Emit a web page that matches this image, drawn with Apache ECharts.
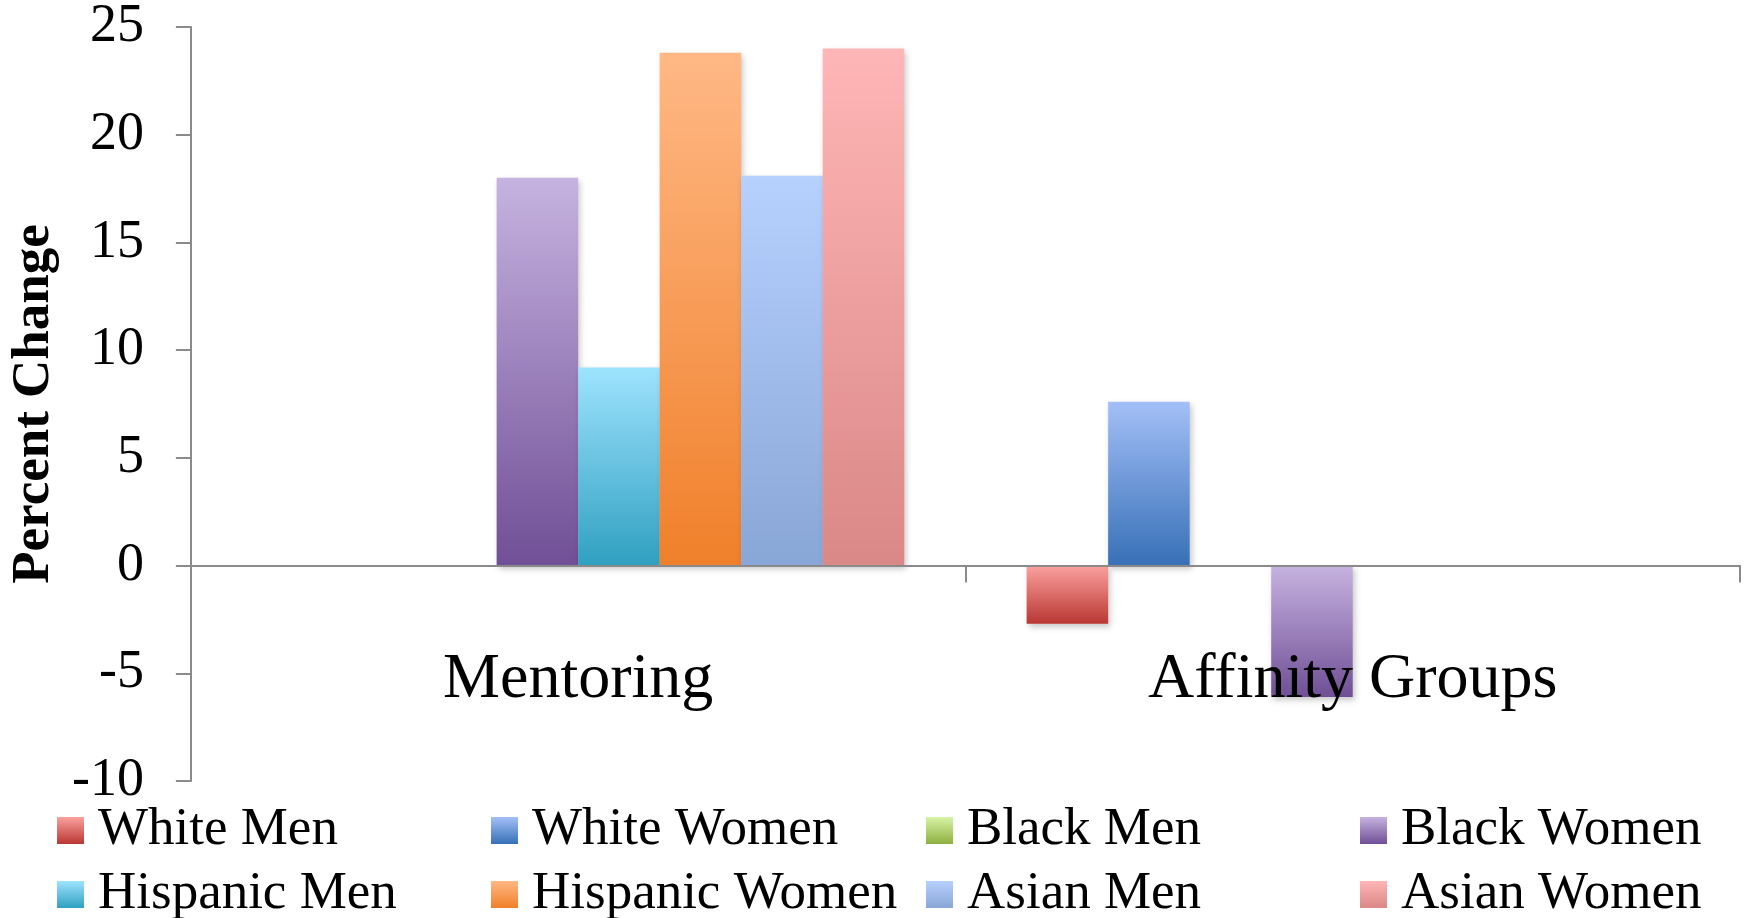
<!DOCTYPE html>
<html>
<head>
<meta charset="utf-8">
<script src="https://cdn.jsdelivr.net/npm/echarts@6/dist/echarts.min.js"></script>
<style>
  html, body { margin: 0; padding: 0; background: #ffffff; }
  #chart { width: 1753px; height: 918px; }
</style>
</head>
<body>
<div id="chart"></div>
<script>
// Programs compared
const categories = ['Mentoring', 'Affinity Groups'];

// Percent change per group (null = no bar)
const whiteMen       = [null, -2.7];
const whiteWomen     = [null, 7.6];
const blackMen       = [null, null];
const blackWomen     = [18.0, -6.1];
const hispanicMen    = [9.2, null];
const hispanicWomen  = [23.8, null];
const asianMen       = [18.1, null];
const asianWomen     = [24.0, null];

const seriesNames = ['White Men', 'White Women', 'Black Men', 'Black Women',
                     'Hispanic Men', 'Hispanic Women', 'Asian Men', 'Asian Women'];
const seriesValues = [whiteMen, whiteWomen, blackMen, blackWomen,
                      hispanicMen, hispanicWomen, asianMen, asianWomen];

// Top / bottom colours of each bar's vertical gradient
const gradientStops = [
  ['#fba19e', '#b93733'],
  ['#a3bff7', '#3770b7'],
  ['#d8f4a7', '#8db03f'],
  ['#c6b3e0', '#704f96'],
  ['#9ee3fe', '#30a0c1'],
  ['#ffb885', '#f0802a'],
  ['#b7d1fe', '#88a6d6'],
  ['#ffb6b6', '#da8787']
];

const FONT = "'Liberation Serif', 'Times New Roman', serif";

const chart = echarts.init(document.getElementById('chart'));

const series = seriesNames.map((name, i) => ({
  name: name,
  type: 'bar',
  data: seriesValues[i],
  barGap: '0%',
  barCategoryGap: '15.8%',
  itemStyle: {
    color: new echarts.graphic.LinearGradient(0, 0, 0, 1, [
      { offset: 0, color: gradientStops[i][0] },
      { offset: 1, color: gradientStops[i][1] }
    ]),
    shadowBlur: 6,
    shadowColor: 'rgba(0,0,0,0.22)',
    shadowOffsetX: 2,
    shadowOffsetY: 3
  }
}));

// Legend laid out as a 4 x 2 grid, one legend per entry
const legendCols = [57, 491, 926, 1360];
const legendRows = [804, 868];
const legends = seriesNames.map((name, i) => ({
  data: [name],
  left: legendCols[i % 4],
  top: legendRows[Math.floor(i / 4)],
  padding: 0,
  itemWidth: 27,
  itemHeight: 27,
  icon: 'rect',
  selectedMode: false,
  textStyle: {
    fontFamily: FONT,
    fontSize: 53,
    lineHeight: 52,
    color: '#000',
    padding: [0, 0, 0, 9]
  }
}));

chart.setOption({
  animation: false,
  backgroundColor: '#ffffff',
  grid: { left: 187, right: 13, top: 25, bottom: 137, containLabel: false },
  legend: legends,
  xAxis: {
    type: 'category',
    data: categories,
    z: 5,
    axisLine: { onZero: true, lineStyle: { color: '#8a8a8a', width: 2 } },
    axisTick: { show: true, length: 17, lineStyle: { color: '#8a8a8a', width: 2 } },
    axisLabel: { fontFamily: FONT, fontSize: 64, color: '#000', margin: -133 },
    splitLine: { show: false }
  },
  yAxis: {
    type: 'value',
    min: -10,
    max: 25,
    interval: 5,
    name: 'Percent Change',
    nameLocation: 'middle',
    nameRotate: 90,
    nameGap: 127,
    nameTextStyle: { fontFamily: FONT, fontSize: 53, fontWeight: 'bold', color: '#000' },
    axisLine: { show: true, lineStyle: { color: '#8a8a8a', width: 2 } },
    axisTick: { show: true, length: 15, lineStyle: { color: '#8a8a8a', width: 2 } },
    axisLabel: { fontFamily: FONT, fontSize: 54, color: '#000', margin: 47 },
    splitLine: { show: false }
  },
  series: series
});
</script>
</body>
</html>
